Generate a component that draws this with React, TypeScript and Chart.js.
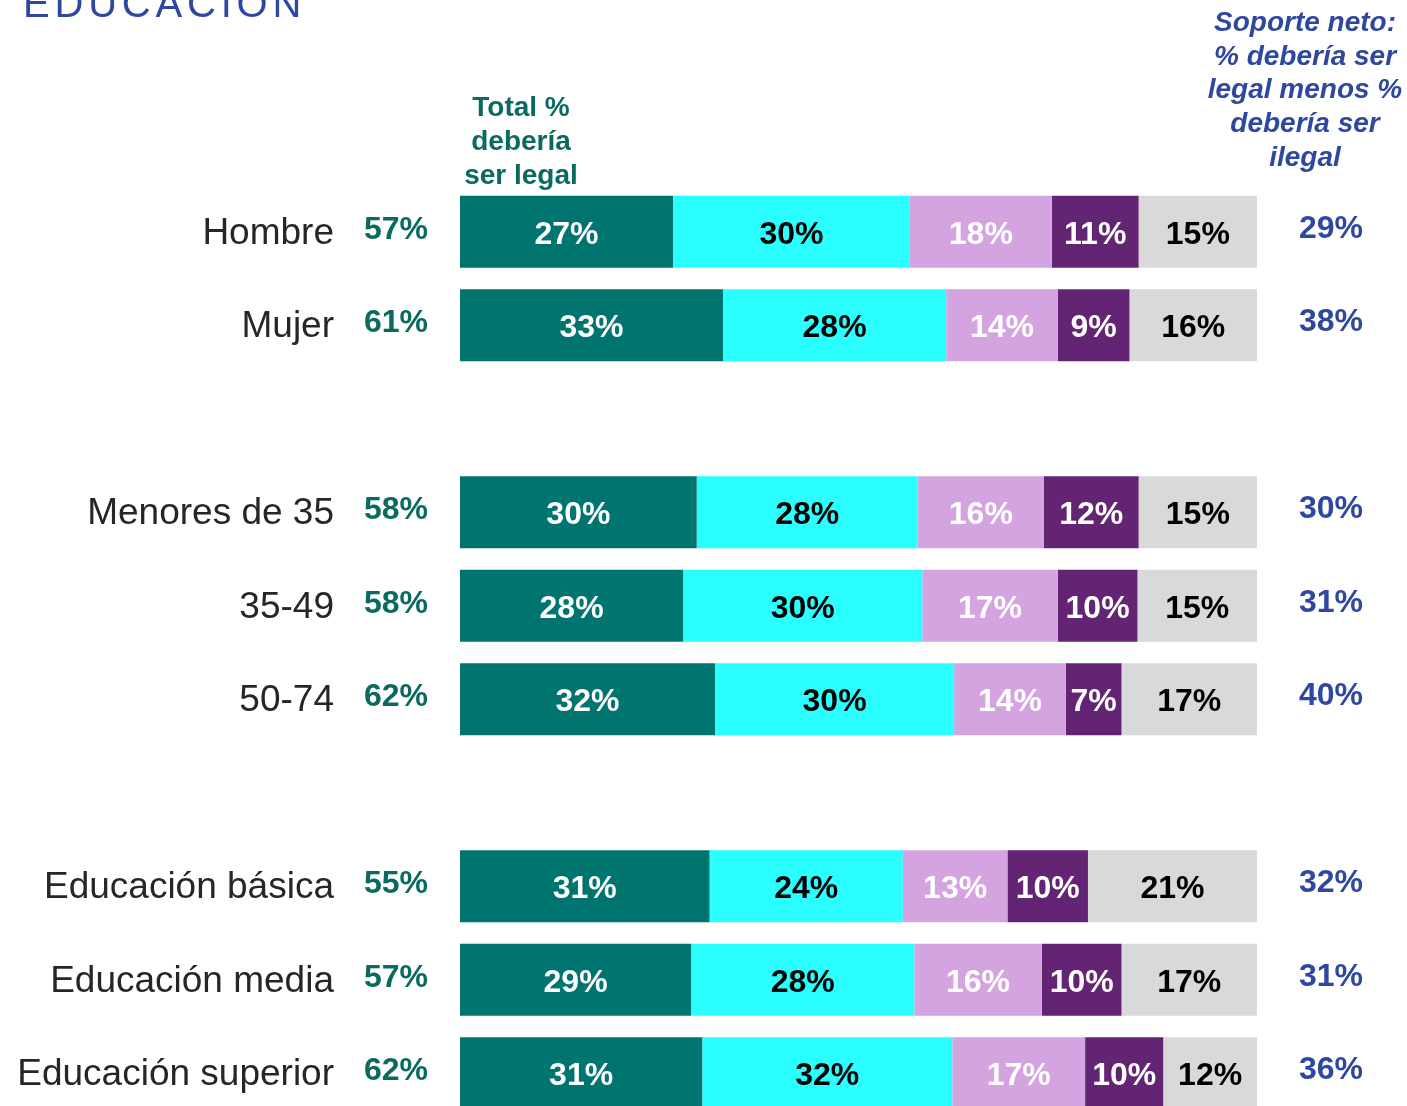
import React, { useEffect, useRef } from "react";
import { Chart, registerables } from "chart.js";

Chart.register(...registerables);

const categories = [
  "Hombre",
  "Mujer",
  "",
  "Menores de 35",
  "35-49",
  "50-74",
  "",
  "Educación básica",
  "Educación media",
  "Educación superior",
];

const seriesNames = [
  "Legal en todos los casos",
  "Legal en la mayoría de los casos",
  "Ilegal en la mayoría de los casos",
  "Ilegal en todos los casos",
  "No sabe",
];

const legalTodos = [27, 33, null, 30, 28, 32, null, 31, 29, 31];
const legalMayoria = [30, 28, null, 28, 30, 30, null, 24, 28, 32];
const ilegalMayoria = [18, 14, null, 16, 17, 14, null, 13, 16, 17];
const ilegalTodos = [11, 9, null, 12, 10, 7, null, 10, 10, 10];
const noSabe = [15, 16, null, 15, 15, 17, null, 21, 17, 12];

const totalLegal = [57, 61, null, 58, 58, 62, null, 55, 57, 62];
const soporteNeto = [29, 38, null, 30, 31, 40, null, 32, 31, 36];

const seriesValues = [legalTodos, legalMayoria, ilegalMayoria, ilegalTodos, noSabe];
const seriesColors = ["#007570", "#2afefe", "#d4a4e0", "#622473", "#d9d9d9"];
const labelColors = ["#ffffff", "#000000", "#ffffff", "#ffffff", "#000000"];

const titleText = "EDUCACIÓN";
const totalHeader = ["Total %", "debería", "ser legal"];
const netHeader = ["Soporte neto:", "% debería ser", "legal menos %", "debería ser", "ilegal"];

const FONT = '"Liberation Sans", Arial, sans-serif';
const BLUE = "#2e47a0";
const TEAL_TEXT = "#0a6a60";

function rowSum(i: number): number {
  let s = 0;
  for (const arr of seriesValues) s += (arr[i] as number) || 0;
  return s;
}

const textPlugin = {
  id: "textPlugin",
  afterDatasetsDraw(chart: any) {
    const ctx = chart.ctx as CanvasRenderingContext2D;
    const yScale = chart.scales.y;
    ctx.save();

    // segment labels
    chart.data.datasets.forEach((ds: any, di: number) => {
      const meta = chart.getDatasetMeta(di);
      meta.data.forEach((el: any, j: number) => {
        const v = seriesValues[di][j];
        if (v == null) return;
        const cx = (el.x + el.base) / 2;
        ctx.font = `bold 32px ${FONT}`;
        ctx.fillStyle = labelColors[di];
        ctx.textAlign = "center";
        ctx.textBaseline = "middle";
        ctx.fillText(`${v}%`, cx, el.y + 3);
      });
    });

    // category labels, totals, net support
    categories.forEach((c, j) => {
      if (!c) return;
      const y = yScale.getPixelForValue(j);
      ctx.textBaseline = "middle";
      ctx.font = `37px ${FONT}`;
      ctx.fillStyle = "#262626";
      ctx.textAlign = "right";
      ctx.fillText(c, 334, y + 2);

      ctx.font = `bold 32px ${FONT}`;
      ctx.fillStyle = TEAL_TEXT;
      ctx.textAlign = "center";
      ctx.fillText(`${totalLegal[j]}%`, 396, y - 2);

      ctx.fillStyle = BLUE;
      ctx.fillText(`${soporteNeto[j]}%`, 1331, y - 3);
    });

    // header: total
    ctx.font = `bold 28px ${FONT}`;
    ctx.fillStyle = TEAL_TEXT;
    ctx.textAlign = "center";
    ctx.textBaseline = "middle";
    totalHeader.forEach((t, k) => ctx.fillText(t, 521, 108 + k * 34));

    // header: net
    ctx.font = `italic bold 28px ${FONT}`;
    ctx.fillStyle = BLUE;
    netHeader.forEach((t, k) => ctx.fillText(t, 1305, 23 + k * 33.8));

    // title
    ctx.font = `40px ${FONT}`;
    ctx.fillStyle = BLUE;
    ctx.textAlign = "left";
    ctx.textBaseline = "alphabetic";
    (ctx as any).letterSpacing = "4.8px";
    ctx.fillText(titleText, 23, 17);
    ctx.restore();
  },
};

export default function App() {
  const ref = useRef<HTMLCanvasElement | null>(null);
  useEffect(() => {
    if (!ref.current) return;
    const chart = new Chart(ref.current, {
      type: "bar",
      data: {
        labels: categories,
        datasets: seriesValues.map((arr, i) => ({
          label: seriesNames[i],
          data: arr.map((v, j) => (v == null ? null : (v / rowSum(j)) * 100)),
          backgroundColor: seriesColors[i],
          borderWidth: 0,
          categoryPercentage: 1,
          barPercentage: 0.77,
        })),
      },
      options: {
        indexAxis: "y",
        responsive: false,
        animation: false,
        devicePixelRatio: 1,
        layout: { padding: { left: 460, right: 150, top: 185, bottom: 10 } },
        plugins: {
          legend: { display: false },
          tooltip: { enabled: false },
          title: { display: false },
        },
        scales: {
          x: { stacked: true, min: 0, max: 100, display: false },
          y: { stacked: true, display: false },
        },
      },
      plugins: [textPlugin],
    });
    return () => chart.destroy();
  }, []);

  return (
    <div style={{ position: "fixed", top: 0, left: 0, width: 1407, height: 1130, background: "#fff" }}>
      <canvas ref={ref} width={1407} height={1130} style={{ display: "block" }} />
    </div>
  );
}
